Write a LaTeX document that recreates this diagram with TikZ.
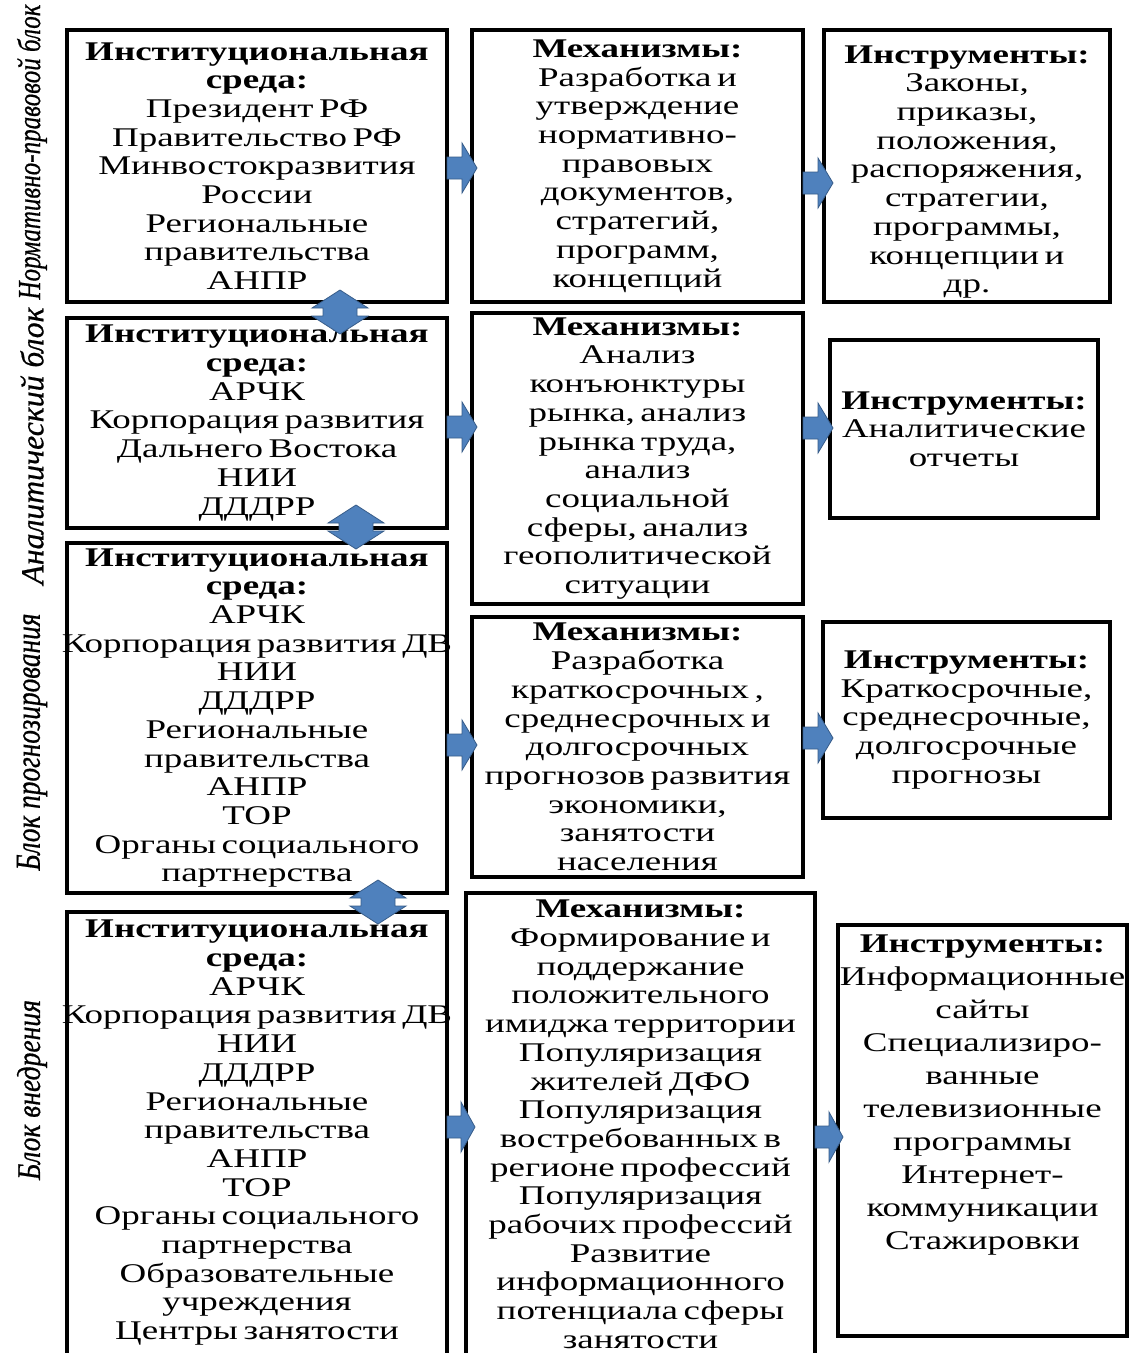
\documentclass[tikz,border=0pt]{standalone}
\usepackage{fontspec}
\setmainfont{Liberation Serif}[FakeStretch=1.37, WordSpace=0.6]
\newfontfamily\sidefont{Liberation Serif}[FakeBold=0.6]
\usetikzlibrary{calc}
\definecolor{arrowfill}{RGB}{79,129,189}
\definecolor{arrowline}{RGB}{56,93,138}
% right block arrow: #1 tail point (middle), #2 half length
\newcommand\rarrow[2]{\filldraw[fill=arrowfill, draw=arrowline, line width=0.8pt]
  (#1) ++(0,11) -- ++(#2,0) -- ++(0,14) -- ++(#2,-25) -- ++(-#2,-25) -- ++(0,14) -- ++(-#2,0) -- cycle;}
% up-down block arrow: #1 centre
\newcommand\udarrow[1]{\filldraw[fill=arrowfill, draw=arrowline, line width=0.8pt]
  (#1) ++(0,-22) -- ++(28,18) -- ++(-11,0) -- ++(0,8) -- ++(11,0) -- ++(-28,18)
  -- ++(-28,-18) -- ++(11,0) -- ++(0,-8) -- ++(-11,0) -- cycle;}
\begin{document}
\begin{tikzpicture}[x=1pt,y=-1pt,
  box/.style={draw=black, line width=3.5pt, fill=white, anchor=north west, inner sep=0pt, outer sep=0pt},
  txt/.style={align=center, inner sep=0pt, text=black, font=\fontsize{27}{28.7}\selectfont},
  side/.style={rotate=90, inner sep=0pt}]
\useasboundingbox (0,0) rectangle (1129,1353);
\clip (0,0) rectangle (1129,1353);
\fill[white] (0,0) rectangle (1129,1353);

% side labels
\node[side] (l1) at (32,152) {\resizebox{295pt}{23pt}{\sidefont\itshape Нормативно-правовой блок}};
\node[side] (l2) at (32,446) {\resizebox{277pt}{23pt}{\sidefont\itshape Аналитический блок}};
\node[side] (l3) at (32,742) {\resizebox{257pt}{23pt}{\sidefont\itshape Блок прогнозирования}};
\node[side] (l4) at (32,1090) {\resizebox{180pt}{23pt}{\sidefont\itshape Блок внедрения}};

% boxes
\node[box, minimum width=380pt, minimum height=272pt] (a1) at (67,30) {};
\node[box, minimum width=331pt, minimum height=272pt] (b1) at (472,30) {};
\node[box, minimum width=286pt, minimum height=272pt] (c1) at (824,30) {};
\node[box, minimum width=380pt, minimum height=210pt] (a2) at (67,318) {};
\node[box, minimum width=331pt, minimum height=291pt] (b2) at (472,313) {};
\node[box, minimum width=268pt, minimum height=178pt] (c2) at (830,340) {};
\node[box, minimum width=380pt, minimum height=350pt] (a3) at (67,543) {};
\node[box, minimum width=331pt, minimum height=260pt] (b3) at (472,617) {};
\node[box, minimum width=287pt, minimum height=196pt] (c3) at (823,622) {};
\node[box, minimum width=380pt, minimum height=460pt] (a4) at (67,912) {};
\node[box, minimum width=349pt, minimum height=480pt] (b4) at (466,893) {};
\node[box, minimum width=289pt, minimum height=411pt] (c4) at (838,925) {};

% texts
\node[txt] (a1t) at (a1.center) {\textbf{Институциональная}\\\textbf{среда:}\\Президент РФ\\Правительство РФ\\Минвостокразвития\\России\\Региональные\\правительства\\АНПР};
\node[txt] (b1t) at (b1.center) {\textbf{Механизмы:}\\Разработка и\\утверждение\\нормативно-\\правовых\\документов,\\стратегий,\\программ,\\концепций};
\node[txt] (c1t) at ($(c1.center)+(0,6)$) {\textbf{Инструменты:}\\Законы,\\приказы,\\положения,\\распоряжения,\\стратегии,\\программы,\\концепции и\\др.};
\node[txt] (a2t) at (a2.center) {\textbf{Институциональная}\\\textbf{среда:}\\АРЧК\\Корпорация развития\\Дальнего Востока\\НИИ\\ДДДРР};
\node[txt] (b2t) at (b2.center) {\textbf{Механизмы:}\\Анализ\\конъюнктуры\\рынка, анализ\\рынка труда,\\анализ\\социальной\\сферы, анализ\\геополитической\\ситуации};
\node[txt] (c2t) at (c2.center) {\textbf{Инструменты:}\\Аналитические\\отчеты};
\node[txt] (a3t) at (a3.center) {\textbf{Институциональная}\\\textbf{среда:}\\АРЧК\\Корпорация развития ДВ\\НИИ\\ДДДРР\\Региональные\\правительства\\АНПР\\ТОР\\Органы социального\\партнерства};
\node[txt] (b3t) at (b3.center) {\textbf{Механизмы:}\\Разработка\\краткосрочных ,\\среднесрочных и\\долгосрочных\\прогнозов развития\\экономики,\\занятости\\населения};
\node[txt] (c3t) at (c3.center) {\textbf{Инструменты:}\\Краткосрочные,\\среднесрочные,\\долгосрочные\\прогнозы};
\node[txt, anchor=north] (a4t) at ($(a4.north)+(0,8)$) {\textbf{Институциональная}\\\textbf{среда:}\\АРЧК\\Корпорация развития ДВ\\НИИ\\ДДДРР\\Региональные\\правительства\\АНПР\\ТОР\\Органы социального\\партнерства\\Образовательные\\учреждения\\Центры занятости};
\node[txt, anchor=north] (b4t) at ($(b4.north)+(0,7)$) {\textbf{Механизмы:}\\Формирование и\\поддержание\\положительного\\имиджа территории\\Популяризация\\жителей ДФО\\Популяризация\\востребованных в\\регионе профессий\\Популяризация\\рабочих профессий\\Развитие\\информационного\\потенциала сферы\\занятости};
\node[txt, anchor=north, font=\fontsize{27}{33}\selectfont] (c4t) at ($(c4.north)+(0,10)$) {\textbf{Инструменты:}\\Информационные\\сайты\\Специализиро-\\ванные\\телевизионные\\программы\\Интернет-\\коммуникации\\Стажировки};

% right arrows
\rarrow{a1.east |- 0,168}{15}
\rarrow{b1.east |- 0,183}{15}
\rarrow{a2.east |- 0,427}{15}
\rarrow{b2.east |- 0,428}{15}
\rarrow{a3.east |- 0,745}{15}
\rarrow{b3.east |- 0,738}{15}
\rarrow{a4.east |- 0,1127}{14}
\rarrow{b4.east |- 0,1137}{14}

% up-down arrows
\udarrow{340,312}
\udarrow{356,527}
\udarrow{378,902}
\end{tikzpicture}
\end{document}
